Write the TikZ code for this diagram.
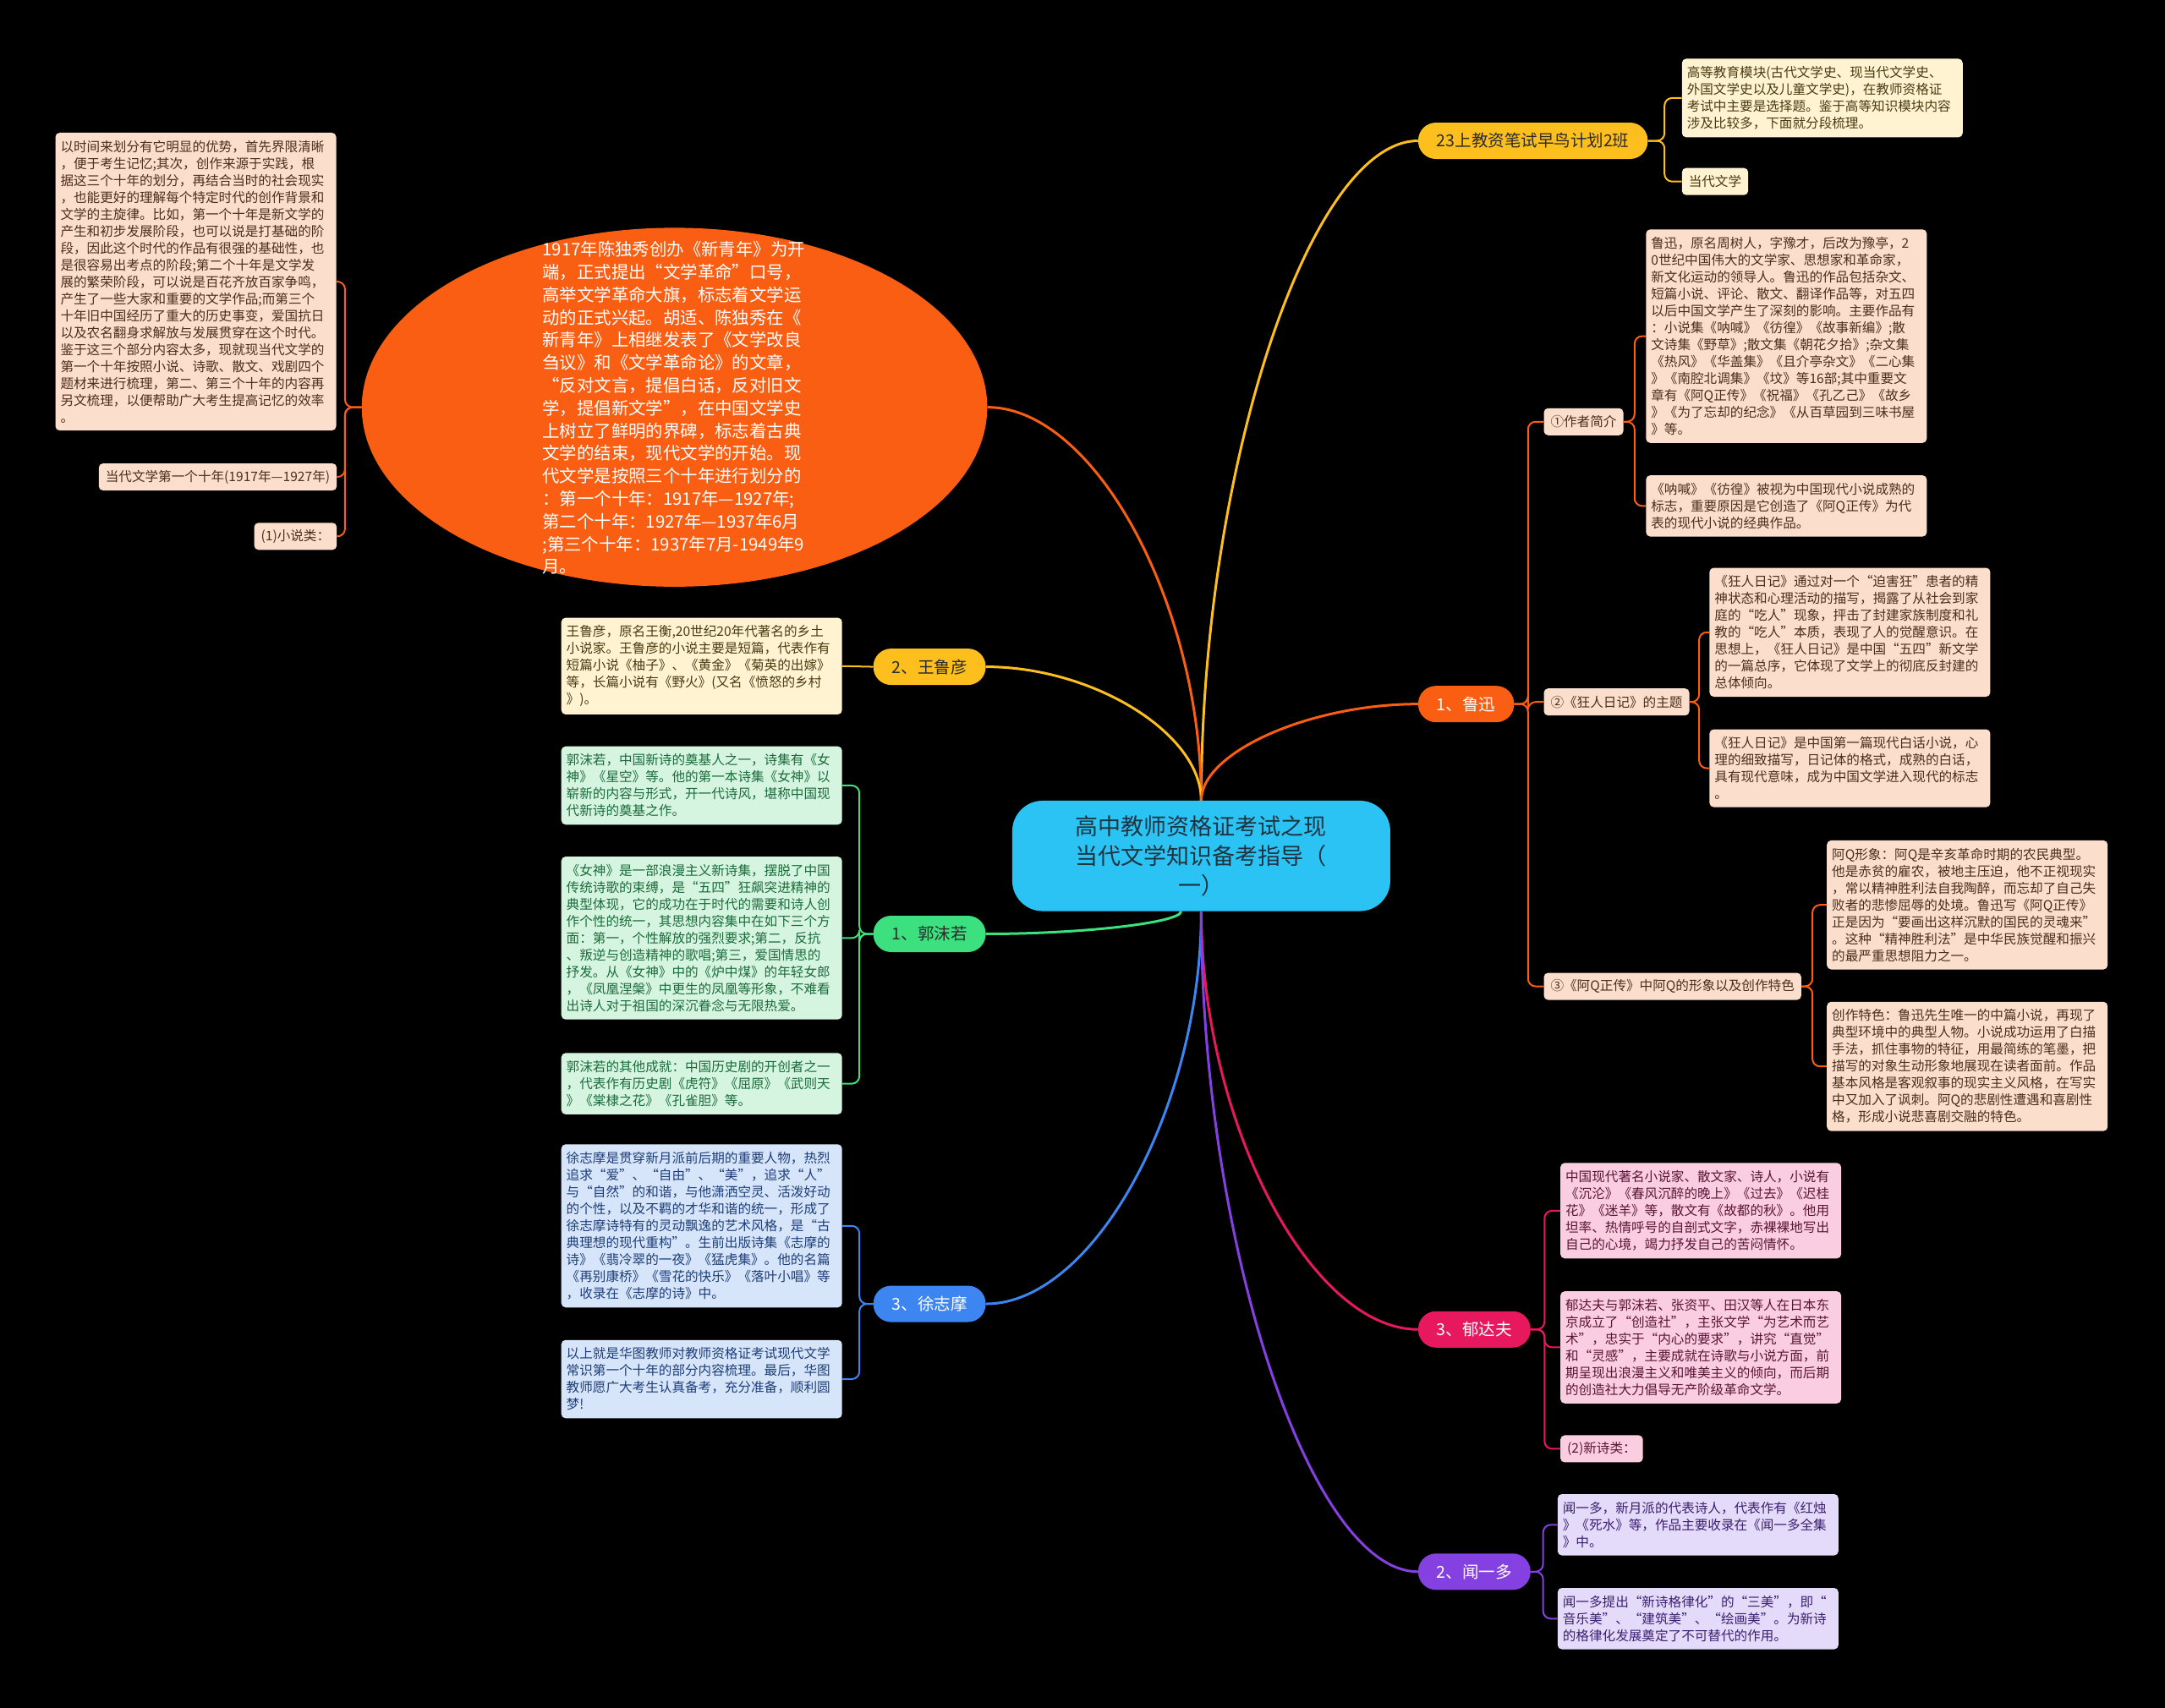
\documentclass[tikz,border=0pt]{standalone}
\usepackage{fontspec}
\setmainfont{Noto Sans CJK SC}
\usetikzlibrary{shapes.geometric,calc}
\definecolor{cOrange}{HTML}{F95E13}
\definecolor{cGold}{HTML}{FDBF1E}
\definecolor{cGreen}{HTML}{3DE07F}
\definecolor{cBlue}{HTML}{3D85F0}
\definecolor{cPink}{HTML}{E8185F}
\definecolor{cPurple}{HTML}{8440E0}
\definecolor{cCyan}{HTML}{2BC3F3}
\definecolor{fPeach}{HTML}{FCDECC}
\definecolor{fYel}{HTML}{FFF3D2}
\definecolor{fGreen}{HTML}{D5F5E1}
\definecolor{fBlue}{HTML}{D7E5FA}
\definecolor{fPink}{HTML}{FBCDE1}
\definecolor{fPurp}{HTML}{E4DAFA}
\definecolor{tPeach}{HTML}{4D2E1E}
\definecolor{tYel}{HTML}{4A3A10}
\definecolor{tGreen}{HTML}{1B6B3A}
\definecolor{tBlue}{HTML}{1D3E78}
\definecolor{tPink}{HTML}{5A1535}
\definecolor{tPurp}{HTML}{3B1F70}
\definecolor{tDark}{HTML}{2A2A2A}
\definecolor{tRoot}{HTML}{1E3440}
\newcommand\mmbranch[3]{\draw[#1] (#2) .. controls ($(#2)!0.5!(#2|-#3)$) and ($(#3)!0.5!(#2|-#3)$) .. (#3);}
\tikzset{
  txt/.style={font=\fontsize{15.6pt}{20pt}\selectfont, align=left, text width=320pt, inner xsep=6pt, inner ysep=9pt, rounded corners=5pt},
  lab/.style={font=\fontsize{15.6pt}{20pt}\selectfont, inner xsep=8pt, inner ysep=4pt, minimum height=32pt, rounded corners=5pt},
  lvl/.style={font=\fontsize{19.5pt}{24pt}\selectfont, inner xsep=22pt, minimum height=43pt, rounded corners=21pt},
  bk/.style={line width=2pt, rounded corners=9pt},
  mainl/.style={line width=3pt},
}
\begin{document}
\begin{tikzpicture}[x=1.6327pt,y=-1.6327pt]
\useasboundingbox[fill=black] (0,0) rectangle (1568,1237);

% ---------- root ----------
\node[fill=cCyan, rounded corners=36pt, minimum width=447pt, minimum height=130.6pt, align=center, text=tRoot, font=\fontsize{27pt}{35pt}\selectfont] (root) at (870,620) {高中教师资格证考试之现\\当代文学知识备考指导（\\一）};

% ---------- big orange ellipse ----------
\node[ellipse, fill=cOrange, minimum width=739.6pt, minimum height=424.5pt, inner sep=0pt] (ell) at (488.5,295) {};
\node[text=white, align=left, font=\fontsize{20.4pt}{26.8pt}\selectfont, inner sep=0pt] (elltxt) at (488,295.5) {1917年陈独秀创办《新青年》为开\\
端，正式提出“文学革命”口号，\\
高举文学革命大旗，标志着文学运\\
动的正式兴起。胡适、陈独秀在《\\
新青年》上相继发表了《文学改良\\
刍议》和《文学革命论》的文章，\\
“反对文言，提倡白话，反对旧文\\
学，提倡新文学”，在中国文学史\\
上树立了鲜明的界碑，标志着古典\\
文学的结束，现代文学的开始。现\\
代文学是按照三个十年进行划分的\\
：第一个十年：1917年—1927年;\\
第二个十年：1927年—1937年6月\\
;第三个十年：1937年7月-1949年9\\
月。};

\node[txt, fill=fPeach, text=tPeach, anchor=west] (l1) at (40,204) {以时间来划分有它明显的优势，首先界限清晰\\
，便于考生记忆;其次，创作来源于实践，根\\
据这三个十年的划分，再结合当时的社会现实\\
，也能更好的理解每个特定时代的创作背景和\\
文学的主旋律。比如，第一个十年是新文学的\\
产生和初步发展阶段，也可以说是打基础的阶\\
段，因此这个时代的作品有很强的基础性，也\\
是很容易出考点的阶段;第二个十年是文学发\\
展的繁荣阶段，可以说是百花齐放百家争鸣，\\
产生了一些大家和重要的文学作品;而第三个\\
十年旧中国经历了重大的历史事变，爱国抗日\\
以及农名翻身求解放与发展贯穿在这个时代。\\
鉴于这三个部分内容太多，现就现当代文学的\\
第一个十年按照小说、诗歌、散文、戏剧四个\\
题材来进行梳理，第二、第三个十年的内容再\\
另文梳理，以便帮助广大考生提高记忆的效率\\
。};
\node[lab, fill=fPeach, text=tPeach, anchor=east] (l2) at (244,345.5) {当代文学第一个十年(1917年—1927年)};
\node[lab, fill=fPeach, text=tPeach, anchor=east] (l3) at (244,388.5) {(1)小说类：};

% ---------- 23上 ----------
\node[lvl, fill=cGold, text=tDark, anchor=west] (n23) at (1027,102) {23上教资笔试早鸟计划2班};
\node[txt, fill=fYel, text=tYel, anchor=west] (y1) at (1218,71) {高等教育模块(古代文学史、现当代文学史、\\
外国文学史以及儿童文学史)，在教师资格证\\
考试中主要是选择题。鉴于高等知识模块内容\\
涉及比较多，下面就分段梳理。};
\node[lab, fill=fYel, text=tYel, anchor=west] (y2) at (1218,131.5) {当代文学};

% ---------- 鲁迅 ----------
\node[lvl, fill=cOrange, text=white, anchor=west] (nlx) at (1027,510) {1、鲁迅};
\node[lab, fill=fPeach, text=tPeach, anchor=west] (lxa) at (1118,305.5) {①作者简介};
\node[lab, fill=fPeach, text=tPeach, anchor=west] (lxb) at (1118,508.5) {②《狂人日记》的主题};
\node[lab, fill=fPeach, text=tPeach, anchor=west] (lxc) at (1118,714.5) {③《阿Q正传》中阿Q的形象以及创作特色};
\node[txt, fill=fPeach, text=tPeach, anchor=west] (lxa1) at (1192,243.5) {鲁迅，原名周树人，字豫才，后改为豫亭，2\\
0世纪中国伟大的文学家、思想家和革命家，\\
新文化运动的领导人。鲁迅的作品包括杂文、\\
短篇小说、评论、散文、翻译作品等，对五四\\
以后中国文学产生了深刻的影响。主要作品有\\
：小说集《呐喊》《彷徨》《故事新编》;散\\
文诗集《野草》;散文集《朝花夕拾》;杂文集\\
《热风》《华盖集》《且介亭杂文》《二心集\\
》《南腔北调集》《坟》等16部;其中重要文\\
章有《阿Q正传》《祝福》《孔乙己》《故乡\\
》《为了忘却的纪念》《从百草园到三味书屋\\
》等。};
\node[txt, fill=fPeach, text=tPeach, anchor=west] (lxa2) at (1192,366.5) {《呐喊》《彷徨》被视为中国现代小说成熟的\\
标志，重要原因是它创造了《阿Q正传》为代\\
表的现代小说的经典作品。};
\node[txt, fill=fPeach, text=tPeach, anchor=west] (lxb1) at (1238,458) {《狂人日记》通过对一个“迫害狂”患者的精\\
神状态和心理活动的描写，揭露了从社会到家\\
庭的“吃人”现象，抨击了封建家族制度和礼\\
教的“吃人”本质，表现了人的觉醒意识。在\\
思想上，《狂人日记》是中国“五四”新文学\\
的一篇总序，它体现了文学上的彻底反封建的\\
总体倾向。};
\node[txt, fill=fPeach, text=tPeach, anchor=west] (lxb2) at (1238,556.5) {《狂人日记》是中国第一篇现代白话小说，心\\
理的细致描写，日记体的格式，成熟的白话，\\
具有现代意味，成为中国文学进入现代的标志\\
。};
\node[txt, fill=fPeach, text=tPeach, anchor=west] (lxc1) at (1323,655.5) {阿Q形象：阿Q是辛亥革命时期的农民典型。\\
他是赤贫的雇农，被地主压迫，他不正视现实\\
，常以精神胜利法自我陶醉，而忘却了自己失\\
败者的悲惨屈辱的处境。鲁迅写《阿Q正传》\\
正是因为“要画出这样沉默的国民的灵魂来”\\
。这种“精神胜利法”是中华民族觉醒和振兴\\
的最严重思想阻力之一。};
\node[txt, fill=fPeach, text=tPeach, anchor=west] (lxc2) at (1323,772.5) {创作特色：鲁迅先生唯一的中篇小说，再现了\\
典型环境中的典型人物。小说成功运用了白描\\
手法，抓住事物的特征，用最简练的笔墨，把\\
描写的对象生动形象地展现在读者面前。作品\\
基本风格是客观叙事的现实主义风格，在写实\\
中又加入了讽刺。阿Q的悲剧性遭遇和喜剧性\\
格，形成小说悲喜剧交融的特色。};

% ---------- 郁达夫 ----------
\node[lvl, fill=cPink, text=white, anchor=west] (nydf) at (1027,963) {3、郁达夫};
\node[txt, fill=fPink, text=tPink, anchor=west] (ydf1) at (1130,877) {中国现代著名小说家、散文家、诗人，小说有\\
《沉沦》《春风沉醉的晚上》《过去》《迟桂\\
花》《迷羊》等，散文有《故都的秋》。他用\\
坦率、热情呼号的自剖式文字，赤裸裸地写出\\
自己的心境，竭力抒发自己的苦闷情怀。};
\node[txt, fill=fPink, text=tPink, anchor=west] (ydf2) at (1130,976) {郁达夫与郭沫若、张资平、田汉等人在日本东\\
京成立了“创造社”，主张文学“为艺术而艺\\
术”，忠实于“内心的要求”，讲究“直觉”\\
和“灵感”，主要成就在诗歌与小说方面，前\\
期呈现出浪漫主义和唯美主义的倾向，而后期\\
的创造社大力倡导无产阶级革命文学。};
\node[lab, fill=fPink, text=tPink, anchor=west] (ydf3) at (1130,1049.5) {(2)新诗类：};

% ---------- 闻一多 ----------
\node[lvl, fill=cPurple, text=white, anchor=west] (nwyd) at (1027,1138.5) {2、闻一多};
\node[txt, fill=fPurp, text=tPurp, anchor=west] (wyd1) at (1128,1104.5) {闻一多，新月派的代表诗人，代表作有《红烛\\
》《死水》等，作品主要收录在《闻一多全集\\
》中。};
\node[txt, fill=fPurp, text=tPurp, anchor=west] (wyd2) at (1128,1172.5) {闻一多提出“新诗格律化”的“三美”，即“\\
音乐美”、“建筑美”、“绘画美”。为新诗\\
的格律化发展奠定了不可替代的作用。};

% ---------- 王鲁彦 ----------
\node[lvl, fill=cGold, text=tDark, anchor=east] (nwly) at (714,483) {2、王鲁彦};
\node[txt, fill=fYel, text=tYel, anchor=east] (wly1) at (610,482.5) {王鲁彦，原名王衡,20世纪20年代著名的乡土\\
小说家。王鲁彦的小说主要是短篇，代表作有\\
短篇小说《柚子》、《黄金》《菊英的出嫁》\\
等，长篇小说有《野火》(又名《愤怒的乡村\\
》)。};

% ---------- 郭沫若 ----------
\node[lvl, fill=cGreen, text=tDark, anchor=east] (ngmr) at (714,676.5) {1、郭沫若};
\node[txt, fill=fGreen, text=tGreen, anchor=east] (gmr1) at (610,569) {郭沫若，中国新诗的奠基人之一，诗集有《女\\
神》《星空》等。他的第一本诗集《女神》以\\
崭新的内容与形式，开一代诗风，堪称中国现\\
代新诗的奠基之作。};
\node[txt, fill=fGreen, text=tGreen, anchor=east] (gmr2) at (610,679.5) {《女神》是一部浪漫主义新诗集，摆脱了中国\\
传统诗歌的束缚，是“五四”狂飙突进精神的\\
典型体现，它的成功在于时代的需要和诗人创\\
作个性的统一，其思想内容集中在如下三个方\\
面：第一，个性解放的强烈要求;第二，反抗\\
、叛逆与创造精神的歌唱;第三，爱国情思的\\
抒发。从《女神》中的《炉中煤》的年轻女郎\\
，《凤凰涅槃》中更生的凤凰等形象，不难看\\
出诗人对于祖国的深沉眷念与无限热爱。};
\node[txt, fill=fGreen, text=tGreen, anchor=east] (gmr3) at (610,785) {郭沫若的其他成就：中国历史剧的开创者之一\\
，代表作有历史剧《虎符》《屈原》《武则天\\
》《棠棣之花》《孔雀胆》等。};

% ---------- 徐志摩 ----------
\node[lvl, fill=cBlue, text=white, anchor=east] (nxzm) at (714,944.5) {3、徐志摩};
\node[txt, fill=fBlue, text=tBlue, anchor=east] (xzm1) at (610,888) {徐志摩是贯穿新月派前后期的重要人物，热烈\\
追求“爱”、“自由”、“美”，追求“人”\\
与“自然”的和谐，与他潇洒空灵、活泼好动\\
的个性，以及不羁的才华和谐的统一，形成了\\
徐志摩诗特有的灵动飘逸的艺术风格，是“古\\
典理想的现代重构”。生前出版诗集《志摩的\\
诗》《翡冷翠的一夜》《猛虎集》。他的名篇\\
《再别康桥》《雪花的快乐》《落叶小唱》等\\
，收录在《志摩的诗》中。};
\node[txt, fill=fBlue, text=tBlue, anchor=east] (xzm2) at (610,999) {以上就是华图教师对教师资格证考试现代文学\\
常识第一个十年的部分内容梳理。最后，华图\\
教师愿广大考生认真备考，充分准备，顺利圆\\
梦!};

% ---------- main branches ----------
\coordinate (rootgm) at (root.250);
\mmbranch{mainl,cGold}{root.north}{n23.west}
\mmbranch{mainl,cOrange}{root.north}{ell.east}
\mmbranch{mainl,cGold}{root.north}{nwly.east}
\mmbranch{mainl,cOrange}{root.north}{nlx.west}
\mmbranch{mainl,cGreen}{rootgm}{ngmr.east}
\mmbranch{mainl,cBlue}{root.south}{nxzm.east}
\mmbranch{mainl,cPink}{root.south}{nydf.west}
\mmbranch{mainl,cPurple}{root.south}{nwyd.west}

% ---------- brackets ----------
\foreach \c in {l1,l2,l3} \draw[bk,cOrange] (ell.west) -- ++(-12,0) |- (\c.east);
\foreach \c in {y1,y2} \draw[bk,cGold] (n23.east) -- ++(12,0) |- (\c.west);
\foreach \c in {lxa,lxb,lxc} \draw[bk,cOrange] (nlx.east) -- ++(10,0) |- (\c.west);
\foreach \c in {lxa1,lxa2} \draw[bk,cOrange] (lxa.east) -- ++(8,0) |- (\c.west);
\foreach \c in {lxb1,lxb2} \draw[bk,cOrange] (lxb.east) -- ++(7,0) |- (\c.west);
\foreach \c in {lxc1,lxc2} \draw[bk,cOrange] (lxc.east) -- ++(8,0) |- (\c.west);
\foreach \c in {ydf1,ydf2,ydf3} \draw[bk,cPink] (nydf.east) -- ++(10,0) |- (\c.west);
\foreach \c in {wyd1,wyd2} \draw[bk,cPurple] (nwyd.east) -- ++(9,0) |- (\c.west);
\draw[bk,cGold] (nwly.west) -- (wly1.east);
\foreach \c in {gmr1,gmr2,gmr3} \draw[bk,cGreen] (ngmr.west) -- ++(-10,0) |- (\c.east);
\foreach \c in {xzm1,xzm2} \draw[bk,cBlue] (nxzm.west) -- ++(-10,0) |- (\c.east);
\end{tikzpicture}
\end{document}
